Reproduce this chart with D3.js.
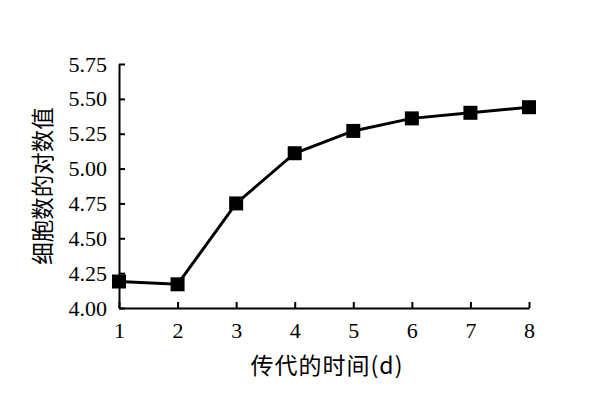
<!DOCTYPE html>
<html>
<head>
<meta charset="utf-8">
<script src="https://cdn.jsdelivr.net/npm/d3@7"></script>
<style>
  body { margin: 0; background: #fff; }
</style>
</head>
<body>
<div id="chart"></div>
<script>
// days in culture and log of cell count
var days = [1, 2, 3, 4, 5, 6, 7, 8];
var logCells = [4.19, 4.17, 4.75, 5.11, 5.27, 5.36, 5.40, 5.44];
var yTicks = [4.00, 4.25, 4.50, 4.75, 5.00, 5.25, 5.50, 5.75];
var xTitle = "传代的时间(d)";
var yTitle = "细胞数的对数值";

var width = 592, height = 397;
var margin = {left: 119, right: 63, top: 64, bottom: 89};

var svg = d3.select('#chart').append('svg')
  .attr('width', width)
  .attr('height', height);

var x = d3.scaleLinear().domain([1, 8]).range([margin.left, width - margin.right]);
var y = d3.scaleLinear().domain([4, 5.75]).range([height - margin.bottom, margin.top]);

// x axis, ticks point inward
var xAxis = svg.append('g')
  .attr('transform', 'translate(0,' + y(4) + ')')
  .call(d3.axisBottom(x).tickValues(days).tickFormat(d3.format('d')).tickSizeInner(-6).tickSizeOuter(0).tickPadding(14));

// y axis
var yAxis = svg.append('g')
  .attr('transform', 'translate(' + x(1) + ',0)')
  .call(d3.axisLeft(y).tickValues(yTicks).tickFormat(d3.format('.2f')).tickSizeInner(-6).tickSizeOuter(0).tickPadding(12));

svg.selectAll('.domain, .tick line').attr('stroke', '#000').attr('stroke-width', 2);
svg.selectAll('.tick text')
  .attr('font-family', '"Liberation Serif", serif')
  .attr('font-size', 22)
  .attr('fill', '#000');
xAxis.selectAll('.tick text').attr('dy', '0.71em');

// line
var line = d3.line()
  .x(function(d, i) { return x(days[i]); })
  .y(function(d) { return y(d); });

svg.append('path')
  .datum(logCells)
  .attr('d', line)
  .attr('fill', 'none')
  .attr('stroke', '#000')
  .attr('stroke-width', 3);

// square markers
var s = 14;
svg.selectAll('rect.pt')
  .data(logCells)
  .enter().append('rect')
  .attr('class', 'pt')
  .attr('x', function(d, i) { return x(days[i]) - s / 2; })
  .attr('y', function(d) { return y(d) - s / 2; })
  .attr('width', s)
  .attr('height', s)
  .attr('fill', '#000');

// titles
svg.append('text')
  .attr('x', 327)
  .attr('y', 374)
  .attr('text-anchor', 'middle')
  .attr('font-family', '"Noto Sans CJK SC", sans-serif')
  .attr('font-size', 23)
  .attr('letter-spacing', 1)
  .text(xTitle);

svg.append('text')
  .attr('transform', 'translate(51,' + 186 + ') rotate(-90)')
  .attr('text-anchor', 'middle')
  .attr('font-family', '"Noto Sans CJK SC", sans-serif')
  .attr('font-size', 22.5)
  .text(yTitle);
</script>
</body>
</html>
